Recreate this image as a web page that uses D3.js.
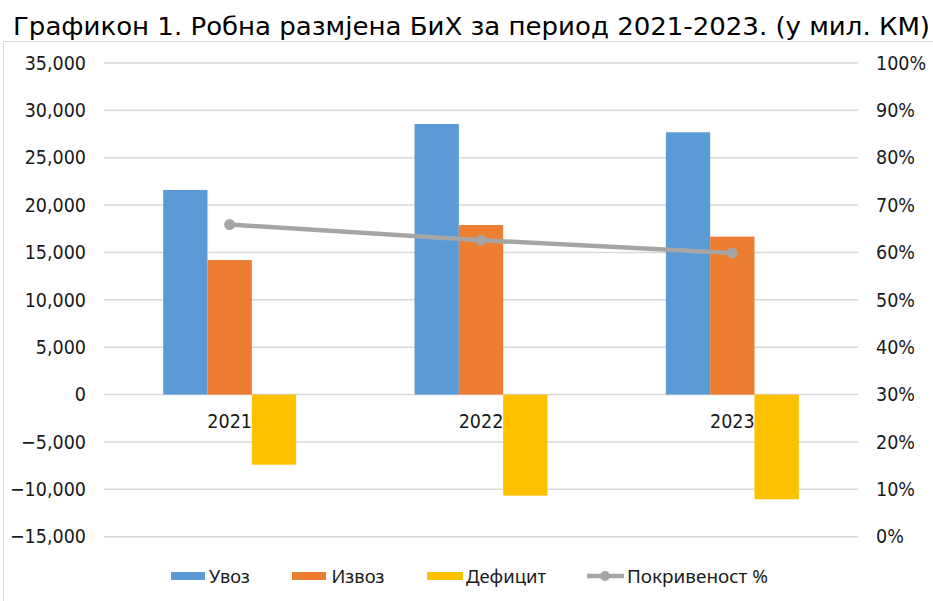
<!DOCTYPE html>
<html><head><meta charset="utf-8">
<script src="https://cdn.jsdelivr.net/npm/d3@7/dist/d3.min.js"></script>
<style>body{margin:0;background:#fff}svg{display:block}</style>
</head><body><svg id="c" width="933" height="601"></svg>
<script>
const categories = ["2021", "2022", "2023"];
const seriesNames = ["Увоз", "Извоз", "Дефицит"];
const importVals = [21600, 28560, 27690];
const exportVals = [14200, 17900, 16670];
const deficitVals = [-7400, -10660, -11050];
const coverage = [65.9, 62.6, 59.9];
const lineName = "Покривеност %";
const leftTicks = [-15000, -10000, -5000, 0, 5000, 10000, 15000, 20000, 25000, 30000, 35000];
const rightTicks = [0, 10, 20, 30, 40, 50, 60, 70, 80, 90, 100];
const title = "Графикон 1. Робна размјена БиХ за период 2021-2023. (у мил. КМ)";
const colors = ["#5B9BD5", "#ED7D31", "#FFC000"];
const lineColor = "#A5A5A5";

const svg = d3.select("#c");
const font = "'DejaVu Sans Condensed', 'DejaVu Sans', sans-serif";
const legFont = "'Noto Sans', 'Open Sans', sans-serif";
const L = 104, R = 858, T = 63, B = 536.7;
const tsize = 19.5;

svg.append("rect").attr("x", 3.5).attr("y", 41.5).attr("width", 940).attr("height", 600)
  .attr("fill", "#fff").attr("stroke", "#D9D9D9").attr("stroke-width", 1);

svg.append("text").attr("x", 13).attr("y", 35).text(title)
  .attr("font-family", font).attr("font-stretch", "condensed")
  .attr("font-size", 24).attr("fill", "#000")
  .attr("textLength", 917).attr("lengthAdjust", "spacingAndGlyphs");

const y = d3.scaleLinear().domain([-15000, 35000]).range([B, T]);
const y2 = d3.scaleLinear().domain([0, 100]).range([B, T]);
const x0 = d3.scaleBand().domain(categories).range([L, R]).paddingInner(0.471).paddingOuter(0.2355);
const x1 = d3.scaleBand().domain(seriesNames).range([0, x0.bandwidth()]).padding(0);

// gridlines
svg.append("g").selectAll("line").data(leftTicks).join("line")
  .attr("x1", L).attr("x2", R).attr("y1", d => y(d)).attr("y2", d => y(d))
  .attr("stroke", "#D9D9D9").attr("stroke-width", 1.5);

// left axis
const fmt = d3.format(",");
const la = svg.append("g").attr("transform", `translate(86,0)`)
  .call(d3.axisLeft(y).tickValues(leftTicks).tickFormat(fmt).tickSize(0).tickPadding(0));
la.select(".domain").remove();
la.selectAll("text").attr("font-family", font).attr("font-stretch", "condensed").attr("font-size", tsize).attr("fill", "#1a1a1a");

// right axis
const ra = svg.append("g").attr("transform", `translate(876,0)`)
  .call(d3.axisRight(y2).tickValues(rightTicks).tickFormat(d => d + "%").tickSize(0).tickPadding(0));
ra.select(".domain").remove();
ra.selectAll("text").attr("font-family", font).attr("font-stretch", "condensed").attr("font-size", tsize).attr("fill", "#1a1a1a");

// bars
const rows = categories.map((c, i) => ({c, vals: [importVals[i], exportVals[i], deficitVals[i]]}));
const g = svg.append("g");
rows.forEach(r => {
  g.append("g").attr("transform", `translate(${x0(r.c)},0)`)
    .selectAll("rect").data(r.vals.map((v, k) => ({v, k}))).join("rect")
    .attr("x", d => x1(seriesNames[d.k])).attr("width", x1.bandwidth())
    .attr("y", d => y(Math.max(0, d.v))).attr("height", d => Math.abs(y(d.v) - y(0)))
    .attr("fill", d => colors[d.k]);
});

// category labels
svg.append("g").selectAll("text").data(categories).join("text")
  .attr("x", d => x0(d) + x0.bandwidth() / 2).attr("y", 428)
  .attr("text-anchor", "middle").attr("font-family", font).attr("font-stretch", "condensed").attr("font-size", tsize)
  .attr("fill", "#1a1a1a").text(d => d);

// line
const cx = d => x0(d) + x0.bandwidth() / 2;
const pts = categories.map((c, i) => [cx(c), y2(coverage[i])]);
svg.append("path").attr("d", d3.line()(pts)).attr("fill", "none")
  .attr("stroke", lineColor).attr("stroke-width", 4.5).attr("stroke-linecap", "round");
svg.append("g").selectAll("circle").data(pts).join("circle")
  .attr("cx", d => d[0]).attr("cy", d => d[1]).attr("r", 5.5).attr("fill", lineColor);

// legend
const ly = 576;
const leg = svg.append("g");
const items = [
  {name: seriesNames[0], color: colors[0], x: 171, w: 34, tx: 209, tw: 41},
  {name: seriesNames[1], color: colors[1], x: 292, w: 34, tx: 331.5, tw: 53},
  {name: seriesNames[2], color: colors[2], x: 427, w: 36, tx: 466, tw: 80},
];
items.forEach(it => {
  leg.append("rect").attr("x", it.x).attr("y", ly - 4).attr("width", it.w).attr("height", 8).attr("fill", it.color);
  leg.append("text").attr("x", it.tx).attr("y", ly).attr("dy", "0.36em").attr("font-family", legFont)
    .attr("font-size", 18.5).attr("fill", "#1a1a1a").text(it.name)
    .attr("textLength", it.tw).attr("lengthAdjust", "spacingAndGlyphs");
});
leg.append("line").attr("x1", 587).attr("x2", 624).attr("y1", ly).attr("y2", ly)
  .attr("stroke", lineColor).attr("stroke-width", 4.5);
leg.append("circle").attr("cx", 605).attr("cy", ly).attr("r", 5).attr("fill", lineColor);
leg.append("text").attr("x", 627).attr("y", ly).attr("dy", "0.36em").attr("font-family", legFont)
  .attr("font-size", 18.5).attr("fill", "#1a1a1a").text(lineName)
  .attr("textLength", 141).attr("lengthAdjust", "spacingAndGlyphs");
</script></body></html>
